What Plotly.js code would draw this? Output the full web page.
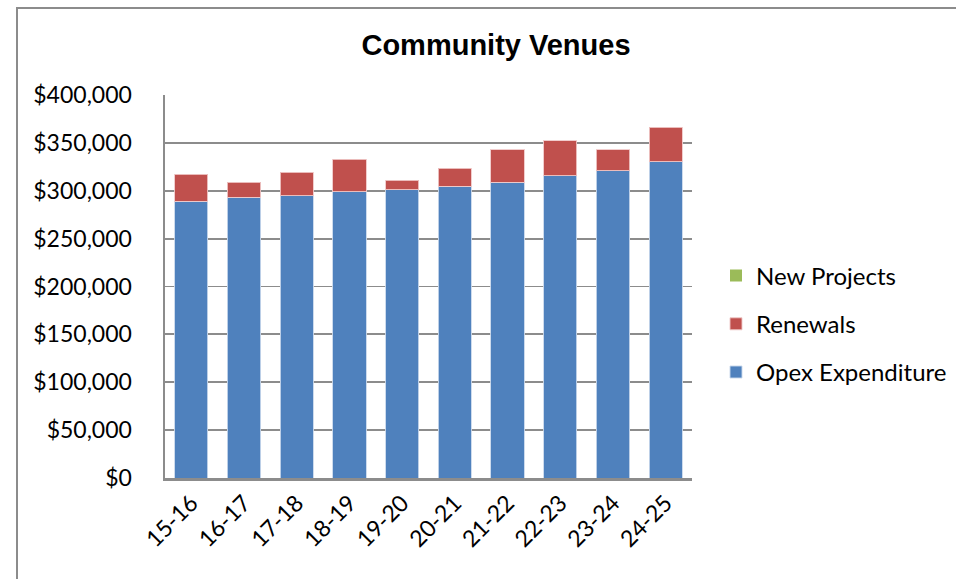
<!DOCTYPE html>
<html>
<head>
<meta charset="utf-8">
<script src="https://cdn.plot.ly/plotly-3.0.1.min.js"></script>
<style>
html,body{margin:0;padding:0;background:#fff;}
#frame{position:absolute;left:16px;top:7px;width:1000px;height:600px;border-left:2px solid #8c8c8c;border-top:2px solid #8c8c8c;box-sizing:border-box;pointer-events:none;}
#chart{position:absolute;left:0;top:0;width:956px;height:579px;}
</style>
</head>
<body>
<div id="chart"></div>
<div id="frame"></div>
<script>
const categories = ["15-16","16-17","17-18","18-19","19-20","20-21","21-22","22-23","23-24","24-25"];
const opex = [289000, 293000, 295000, 299000, 301000, 304500, 309000, 315500, 321000, 330500];
const renewals = [28000, 16000, 24500, 34000, 10000, 19000, 34000, 36500, 22000, 36000];
const newProjects = [0, 0, 0, 0, 0, 0, 0, 0, 0, 0];
const yTicks = [0, 50000, 100000, 150000, 200000, 250000, 300000, 350000, 400000];
const yTickText = ["$0","$50,000","$100,000","$150,000","$200,000","$250,000","$300,000","$350,000","$400,000"];

const font = "Lato, 'Noto Sans', sans-serif";
const traces = [
  {type:'bar', name:'Opex Expenditure', x:categories, y:opex, legendgroup:'a', legendrank:3,
   marker:{color:'#4F81BD', line:{color:'rgba(200,215,235,0.9)', width:1}}},
  {type:'bar', name:'Renewals', x:categories, y:renewals, legendgroup:'b', legendrank:2,
   marker:{color:'#C0504D', line:{color:'rgba(240,200,200,0.9)', width:1}}},
  {type:'bar', name:'New Projects', x:categories, y:newProjects, legendgroup:'c', legendrank:1,
   marker:{color:'#9BBB59', line:{width:0}}}
];
const layout = {
  width:956, height:579,
  margin:{l:165, r:264, t:95, b:101, autoexpand:false},
  paper_bgcolor:'#fff', plot_bgcolor:'#fff',
  barmode:'stack', bargap:0.37,
  title:{text:'<b>Community Venues</b>', x:496/956, xanchor:'center', y:1-45/579, yanchor:'middle',
         font:{family:"'Liberation Sans', Arial, sans-serif", size:29, color:'#000'}},
  xaxis:{tickangle:-45, showline:true, linecolor:'#8c8c8c', linewidth:2.5, ticks:'',
         tickfont:{family:font, size:23, color:'#000'}, showgrid:false},
  yaxis:{range:[0,400000], tickvals:yTicks, ticktext:yTickText, showline:true, linecolor:'#8c8c8c', linewidth:2.5,
         gridcolor:'#8c8c8c', gridwidth:1.8, zeroline:false, ticks:'', ticklabelstandoff:26,
         tickfont:{family:font, size:23, color:'#000'}},
  legend:{x:(716-165)/527, xanchor:'left', y:(478-324)/383, yanchor:'middle', traceorder:'grouped',
          tracegroupgap:14, font:{family:font, size:24, color:'#000'}, bgcolor:'rgba(0,0,0,0)'},
  showlegend:true
};
Plotly.newPlot('chart', traces, layout, {displayModeBar:false, staticPlot:true});
</script>
</body>
</html>
